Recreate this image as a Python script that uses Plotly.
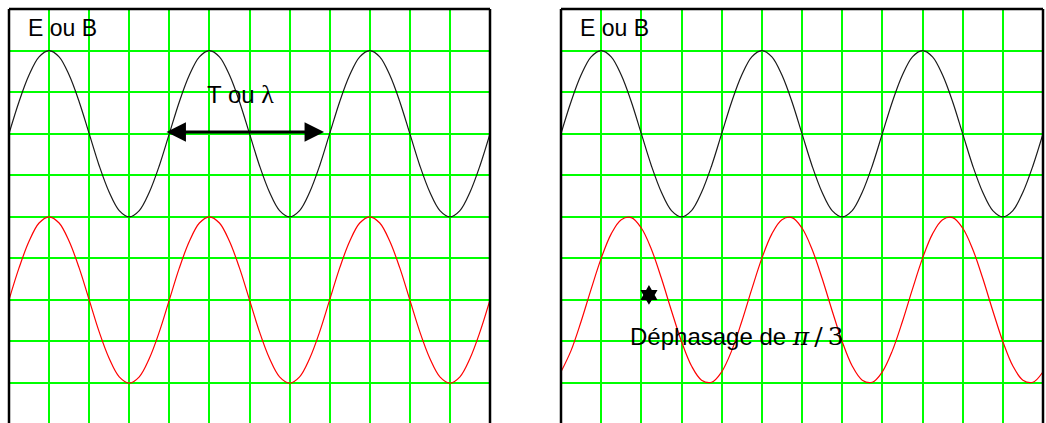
import plotly.graph_objects as go

# Sample positions along the screen, in grid columns (12 columns per panel)
x_pos = [0, 0.25, 0.5, 0.75, 1, 1.25, 1.5, 1.75, 2, 2.25, 2.5, 2.75,
         3, 3.25, 3.5, 3.75, 4, 4.25, 4.5, 4.75, 5, 5.25, 5.5, 5.75,
         6, 6.25, 6.5, 6.75, 7, 7.25, 7.5, 7.75, 8, 8.25, 8.5, 8.75,
         9, 9.25, 9.5, 9.75, 10, 10.25, 10.5, 10.75, 11, 11.25, 11.5, 11.75, 12]

# Black trace (E ou B), read in grid rows from the bottom
black_wave = [7, 7.77, 8.41, 8.85, 9, 8.85, 8.41, 7.77, 7, 6.23, 5.59, 5.15, 5, 5.15, 5.59, 6.23,
              7, 7.77, 8.41, 8.85, 9, 8.85, 8.41, 7.77, 7, 6.23, 5.59, 5.15, 5, 5.15, 5.59, 6.23,
              7, 7.77, 8.41, 8.85, 9, 8.85, 8.41, 7.77, 7, 6.23, 5.59, 5.15, 5, 5.15, 5.59, 6.23,
              7]

# Red trace, in phase (left panel)
red_in_phase = [3, 3.77, 4.41, 4.85, 5, 4.85, 4.41, 3.77, 3, 2.23, 1.59, 1.15, 1, 1.15, 1.59, 2.23,
                3, 3.77, 4.41, 4.85, 5, 4.85, 4.41, 3.77, 3, 2.23, 1.59, 1.15, 1, 1.15, 1.59, 2.23,
                3, 3.77, 4.41, 4.85, 5, 4.85, 4.41, 3.77, 3, 2.23, 1.59, 1.15, 1, 1.15, 1.59, 2.23,
                3]

# Red trace, shifted by pi/3 (right panel)
red_shifted = [1.27, 1.78, 2.48, 3.26, 4.00, 4.59, 4.93, 4.98, 4.73, 4.22, 3.52, 2.74, 2.00, 1.41, 1.07, 1.02,
               1.27, 1.78, 2.48, 3.26, 4.00, 4.59, 4.93, 4.98, 4.73, 4.22, 3.52, 2.74, 2.00, 1.41, 1.07, 1.02,
               1.27, 1.78, 2.48, 3.26, 4.00, 4.59, 4.93, 4.98, 4.73, 4.22, 3.52, 2.74, 2.00, 1.41, 1.07, 1.02,
               1.27]

panel_label = "E ou B"
period_label = "T ou <span style='font-family:Liberation Serif;font-size:26px'>λ</span>"
period_start = [3.89]
period_end = [7.86]
period_level = [7.04]
phase_marker_x = [2.19]
phase_marker_y = [3.12]
phase_label = ("Déphasage de <span style='font-family:DejaVu Serif;font-size:25px'>"
               "<i>π</i>\u2009/\u20093</span>")

W, H = 1046, 423
fig = go.Figure()

line_w = 1.2
fig.add_trace(go.Scatter(x=x_pos, y=black_wave, mode="lines", line=dict(color="#1a1a1a", width=line_w, shape="spline"),
                         xaxis="x", yaxis="y", showlegend=False, hoverinfo="skip"))
fig.add_trace(go.Scatter(x=x_pos, y=red_in_phase, mode="lines", line=dict(color="#ff0000", width=line_w, shape="spline"),
                         xaxis="x", yaxis="y", showlegend=False, hoverinfo="skip"))
fig.add_trace(go.Scatter(x=x_pos, y=black_wave, mode="lines", line=dict(color="#1a1a1a", width=line_w, shape="spline"),
                         xaxis="x2", yaxis="y2", showlegend=False, hoverinfo="skip"))
fig.add_trace(go.Scatter(x=x_pos, y=red_shifted, mode="lines", line=dict(color="#ff0000", width=line_w, shape="spline"),
                         xaxis="x2", yaxis="y2", showlegend=False, hoverinfo="skip"))
fig.add_trace(go.Scatter(x=phase_marker_x, y=phase_marker_y, mode="markers",
                         marker=dict(symbol="hexagram", size=15, color="black", line=dict(width=0)),
                         xaxis="x2", yaxis="y2", showlegend=False, hoverinfo="skip"))

y_top_px = 9
row_px = 41.56
y_low = 10 - (H - y_top_px) / row_px
ydom = [0, (H - y_top_px) / H]

grid = dict(showgrid=True, gridcolor="#00ff00", gridwidth=2, dtick=1, tick0=0,
            showticklabels=False, zeroline=False, ticks="", showline=False, fixedrange=True)

fig.update_layout(
    width=W, height=H,
    margin=dict(l=0, r=0, t=0, b=0),
    paper_bgcolor="white", plot_bgcolor="white",
    xaxis=dict(domain=[9 / W, 490 / W], range=[0, 12], **grid),
    yaxis=dict(domain=ydom, range=[y_low, 10], **grid),
    xaxis2=dict(domain=[561 / W, 1043 / W], range=[0, 12], anchor="y2", **grid),
    yaxis2=dict(domain=ydom, range=[y_low, 10], anchor="x2", **grid),
)

# Panel borders (left, top, right); bottom is cut off by the window
shapes = []
for xr, yr in (("x domain", "y domain"), ("x2 domain", "y2 domain")):
    for (x0, y0, x1, y1) in ((0, 0, 0, 1), (0, 1, 1, 1), (1, 0, 1, 1)):
        shapes.append(dict(type="line", xref=xr, yref=yr, x0=x0, y0=y0, x1=x1, y1=y1,
                           line=dict(color="black", width=2.5), layer="above"))
fig.update_layout(shapes=shapes)

font_main = "Liberation Sans"
ann = []
for xr, yr in (("x", "y"), ("x2", "y2")):
    ann.append(dict(x=0.42, y=9.55, xref=xr, yref=yr, text=panel_label, showarrow=False,
                    xanchor="left", yanchor="middle", font=dict(family=font_main, size=23, color="black")))
ann.append(dict(x=4.9, y=7.95, xref="x", yref="y", text=period_label, showarrow=False,
                xanchor="left", yanchor="middle", font=dict(family=font_main, size=24, color="black")))
ann.append(dict(x=period_end[0], y=period_level[0], ax=period_start[0], ay=period_level[0],
                xref="x", yref="y", axref="x", ayref="y", text="", showarrow=True,
                arrowhead=2, startarrowhead=2, arrowside="end+start", arrowwidth=3,
                arrowsize=1.3, startarrowsize=1.3, arrowcolor="black", standoff=0, startstandoff=0))
ann.append(dict(x=1.66, y=2.11, xref="x2", yref="y2", text=phase_label, showarrow=False,
                xanchor="left", yanchor="middle", font=dict(family=font_main, size=24, color="black")))
fig.update_layout(annotations=ann)

fig.write_html("out.html", config={"displayModeBar": False},
               post_script="document.body.style.margin='0';document.body.style.overflow='hidden';")
